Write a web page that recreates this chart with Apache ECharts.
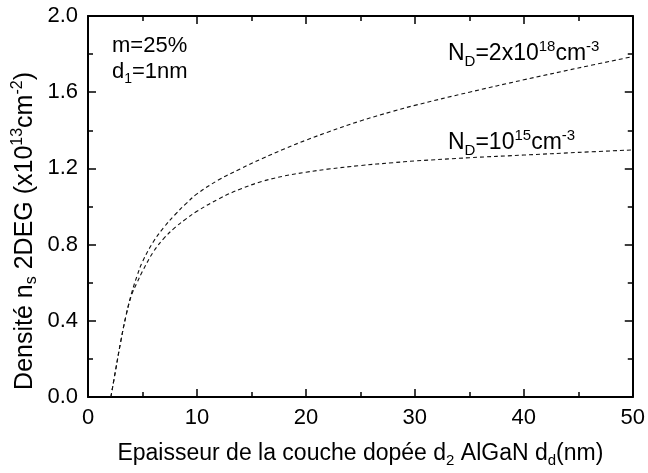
<!DOCTYPE html>
<html><head><meta charset="utf-8">
<script src="https://cdn.jsdelivr.net/npm/echarts@6/dist/echarts.min.js"></script>
<style>html,body{margin:0;padding:0;background:#fff}#c{width:648px;height:473px}</style>
</head><body><div id="c"></div>
<script>
const xValues = [2.1, 2.5, 3, 3.5, 4, 4.5, 5, 6, 7, 8, 9, 10, 12, 14, 16, 18, 20, 22, 25, 28, 30, 35, 40, 45, 50];
const nd2e18 = [0, 0.13, 0.29, 0.43, 0.545, 0.635, 0.71, 0.815, 0.893, 0.958, 1.015, 1.066, 1.140, 1.198, 1.252, 1.302, 1.348, 1.39, 1.449, 1.50, 1.531, 1.60, 1.665, 1.727, 1.787];
const nd1e15 = [0, 0.13, 0.29, 0.43, 0.535, 0.60, 0.66, 0.762, 0.835, 0.89, 0.935, 0.975, 1.04, 1.092, 1.132, 1.16, 1.18, 1.196, 1.215, 1.23, 1.239, 1.256, 1.27, 1.284, 1.297];
const xTicks = [0, 10, 20, 30, 40, 50];
const yTicks = [0.0, 0.4, 0.8, 1.2, 1.6, 2.0];

const FONT = '"Liberation Sans", Arial, sans-serif';
const pair = (xs, ys) => xs.map((x, i) => [x, ys[i]]);
const chart = echarts.init(document.getElementById('c'));
function mkRich(base, small, lh) {
  return {
    a: {fontSize: base, fontFamily: FONT, color: '#000', lineHeight: lh, verticalAlign: 'middle'},
    sub: {fontSize: small, fontFamily: FONT, color: '#000', lineHeight: small, verticalAlign: 'bottom'},
    sup: {fontSize: small, fontFamily: FONT, color: '#000', lineHeight: small, verticalAlign: 'top'}
  };
}
const xAxisBase = {
  type: 'value', min: xTicks[0], max: xTicks[xTicks.length - 1], interval: 10,
  axisLine: {show: true, onZero: false, lineStyle: {color: '#000', width: 2}},
  axisTick: {show: true, inside: true, length: 8, lineStyle: {color: '#000', width: 1.5}},
  minorTick: {show: true, splitNumber: 2, length: 5, lineStyle: {color: '#000', width: 1.5}},
  splitLine: {show: false}
};
const yAxisBase = {
  type: 'value', min: yTicks[0], max: yTicks[yTicks.length - 1], interval: 0.4,
  axisLine: {show: true, onZero: false, lineStyle: {color: '#000', width: 2}},
  axisTick: {show: true, inside: true, length: 8, lineStyle: {color: '#000', width: 1.5}},
  minorTick: {show: true, splitNumber: 2, length: 5, lineStyle: {color: '#000', width: 1.5}},
  splitLine: {show: false}
};
const lineStyle = {color: '#111', width: 1.1, type: [4, 3]};
chart.setOption({
  animation: false,
  backgroundColor: '#fff',
  grid: {left: 88, top: 16, right: 13, bottom: 64, containLabel: false},
  xAxis: [
    Object.assign({}, xAxisBase, {
      position: 'bottom',
      axisLabel: {show: true, margin: 10, color: '#000', fontSize: 22, fontFamily: FONT},
      name: '{a|Epaisseur de la couche dopée d}{sub|2}{a| AlGaN d}{sub|d}{a|(nm)}',
      nameLocation: 'middle', nameGap: 43,
      nameTextStyle: {rich: mkRich(23, 15, 28)}
    }),
    Object.assign({}, xAxisBase, {position: 'top', axisLabel: {show: false}})
  ],
  yAxis: [
    Object.assign({}, yAxisBase, {
      position: 'left',
      axisLabel: {show: true, margin: 10, color: '#000', fontSize: 22, fontFamily: FONT,
        formatter: v => v.toFixed(1)}
    }),
    Object.assign({}, yAxisBase, {position: 'right', axisLabel: {show: false}})
  ],
  series: [
    {name: 'ND=2x10^18', type: 'line', data: pair(xValues, nd2e18), showSymbol: false,
     smooth: 0.4, lineStyle: lineStyle, clip: true},
    {name: 'ND=10^15', type: 'line', data: pair(xValues, nd1e15), showSymbol: false,
     smooth: 0.4, lineStyle: lineStyle, clip: true}
  ],
  graphic: [
    {type: 'text', left: 10, top: 72, rotation: Math.PI / 2,
     style: {text: '{a|Densité n}{sub|s}{a| 2DEG (x10}{sup|13}{a|cm}{sup|-2}{a|)}',
       rich: mkRich(25, 16, 30)}},
    {type: 'text', left: 112, top: 35,
     style: {text: 'm=25%', fontSize: 22, fontFamily: FONT, fill: '#000'}},
    {type: 'text', left: 112, top: 61,
     style: {text: '{a|d}{sub|1}{a|=1nm}', rich: mkRich(22, 14, 28)}},
    {type: 'text', left: 448, top: 39,
     style: {text: '{a|N}{sub|D}{a|=2x10}{sup|18}{a|cm}{sup|-3}', rich: mkRich(23, 15, 30)}},
    {type: 'text', left: 448, top: 128,
     style: {text: '{a|N}{sub|D}{a|=10}{sup|15}{a|cm}{sup|-3}', rich: mkRich(23, 15, 30)}}
  ]
});
</script></body></html>
